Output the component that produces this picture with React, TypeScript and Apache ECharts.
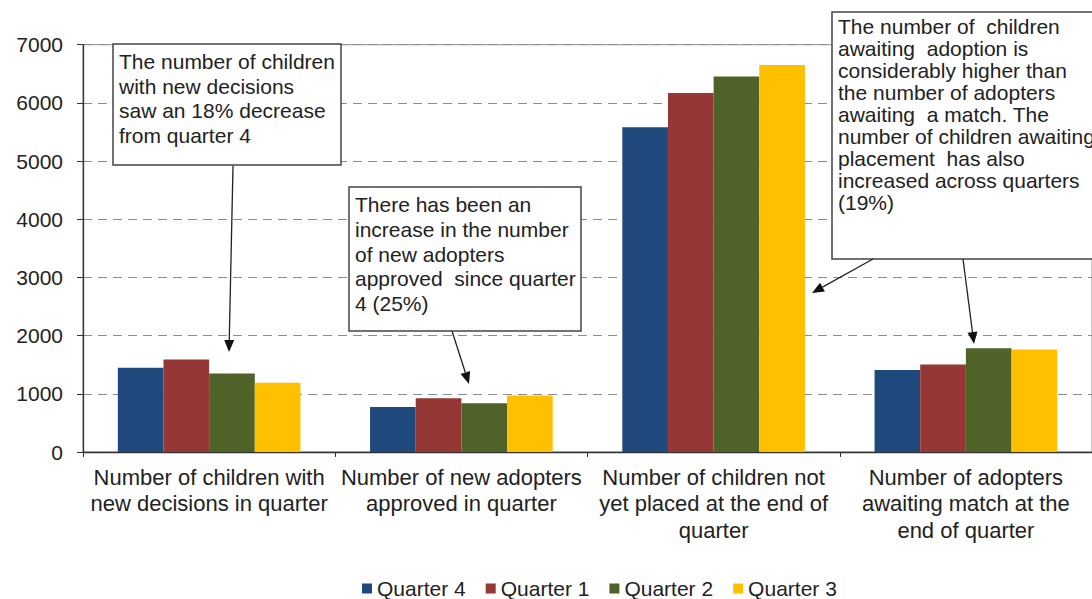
import React, { useEffect, useRef } from "react";
import * as echarts from "echarts";

// Measures reported each quarter
const categories = [
  "Number of children with\nnew decisions in quarter",
  "Number of new adopters\napproved in quarter",
  "Number of children not\nyet placed at the end of\nquarter",
  "Number of adopters\nawaiting match at the\nend of quarter",
];

const seriesNames = ["Quarter 4", "Quarter 1", "Quarter 2", "Quarter 3"];
const quarter4 = [1450, 775, 5580, 1410];
const quarter1 = [1590, 925, 6170, 1505];
const quarter2 = [1350, 838, 6455, 1785];
const quarter3 = [1190, 970, 6650, 1762];
const seriesColors = ["#1F497D", "#953735", "#4F6228", "#FFC000"];

const yTicks = { min: 0, max: 7000, interval: 1000 };

const FONT = "'Liberation Sans', Arial, sans-serif";
const TEXT = "#222222";

// Callout notes: rectangle, text lines and arrows pointing at the bars
const notes = [
  {
    box: [113, 44, 228, 121],
    textAt: [119, 49.5],
    lineHeight: 24.5,
    lines: [
      "The number of children",
      "with new decisions",
      "saw an 18% decrease",
      "from quarter 4",
    ],
    arrows: [[233, 166, 229, 352]],
  },
  {
    box: [349, 187, 232, 144],
    textAt: [355, 192.7],
    lineHeight: 24.6,
    lines: [
      "There has been an",
      "increase in the number",
      "of new adopters",
      "approved  since quarter",
      "4 (25%)",
    ],
    arrows: [[452, 331, 469, 384]],
  },
  {
    box: [832, 12, 290, 247],
    textAt: [838, 15],
    lineHeight: 22,
    lines: [
      "The number of  children",
      "awaiting  adoption is",
      "considerably higher than",
      "the number of adopters",
      "awaiting  a match. The",
      "number of children awaiting",
      "placement  has also",
      "increased across quarters",
      "(19%)",
    ],
    arrows: [
      [873, 259, 812, 293],
      [963, 259, 974, 344],
    ],
  },
];

function arrowElements(x1: number, y1: number, x2: number, y2: number) {
  const ang = Math.atan2(y2 - y1, x2 - x1);
  const L = 12;
  const W = 5;
  const bx = x2 - L * Math.cos(ang);
  const by = y2 - L * Math.sin(ang);
  const px = -Math.sin(ang);
  const py = Math.cos(ang);
  return [
    {
      type: "line",
      shape: { x1, y1, x2: bx, y2: by },
      style: { stroke: "#222", lineWidth: 1.3 },
      z: 100,
    },
    {
      type: "polygon",
      shape: {
        points: [
          [x2, y2],
          [bx + W * px, by + W * py],
          [bx - W * px, by - W * py],
        ],
      },
      style: { fill: "#111" },
      z: 100,
    },
  ];
}

function buildGraphic() {
  const elements: any[] = [];
  notes.forEach((n) => {
    elements.push({
      type: "rect",
      shape: { x: n.box[0], y: n.box[1], width: n.box[2], height: n.box[3] },
      style: { fill: "#ffffff", stroke: "#444", lineWidth: 1.5 },
      z: 100,
    });
    elements.push({
      type: "text",
      x: n.textAt[0],
      y: n.textAt[1],
      style: {
        text: n.lines.join("\n"),
        fontSize: 21,
        fontFamily: FONT,
        lineHeight: n.lineHeight,
        fill: TEXT,
        verticalAlign: "top",
        align: "left",
      },
      z: 101,
    });
    n.arrows.forEach((a) => {
      elements.push(...arrowElements(a[0], a[1], a[2], a[3]));
    });
  });
  return elements;
}

export default function App() {
  const ref = useRef<HTMLDivElement>(null);

  useEffect(() => {
    if (!ref.current) return;
    const chart = echarts.init(ref.current, undefined, { renderer: "svg" });
    const values = [quarter4, quarter1, quarter2, quarter3];

    chart.setOption({
      animation: false,
      backgroundColor: "#ffffff",
      textStyle: { fontFamily: FONT },
      grid: {
        left: 83,
        top: 44.7,
        width: 1019,
        height: 407.3,
        show: true,
        borderColor: "#8c8c8c",
        borderWidth: 1,
      },
      legend: {
        data: seriesNames,
        left: 362,
        top: 578,
        padding: 0,
        icon: "rect",
        itemWidth: 10,
        itemHeight: 10,
        itemGap: 20,
        textStyle: {
          fontSize: 21,
          lineHeight: 20,
          fontFamily: FONT,
          color: TEXT,
        },
      },
      xAxis: {
        type: "category",
        data: categories,
        axisLine: { lineStyle: { color: "#333", width: 1.3 } },
        axisTick: { show: true, length: 5, lineStyle: { color: "#333" } },
        axisLabel: {
          interval: 0,
          fontSize: 22,
          fontFamily: FONT,
          color: TEXT,
          lineHeight: 26.5,
          margin: 12,
          align: "center",
        },
      },
      yAxis: {
        type: "value",
        min: yTicks.min,
        max: yTicks.max,
        interval: yTicks.interval,
        axisLine: { show: true, lineStyle: { color: "#333", width: 1.3 } },
        axisTick: { show: true, length: 6, lineStyle: { color: "#333" } },
        axisLabel: {
          fontSize: 21,
          fontFamily: FONT,
          color: TEXT,
          margin: 20,
          formatter: (v: number) => String(v),
        },
        splitLine: {
          show: true,
          lineStyle: { color: "#8c8c8c", type: [9, 6], width: 1 },
        },
      },
      series: seriesNames.map((name, i) => ({
        name,
        type: "bar",
        data: values[i],
        barGap: "0%",
        barCategoryGap: "27.6%",
        itemStyle: { color: seriesColors[i] },
      })),
      graphic: buildGraphic(),
    });

    return () => chart.dispose();
  }, []);

  return (
    <div
      ref={ref}
      style={{
        position: "fixed",
        left: 0,
        top: 0,
        width: 1092,
        height: 599,
        background: "#fff",
      }}
    />
  );
}
